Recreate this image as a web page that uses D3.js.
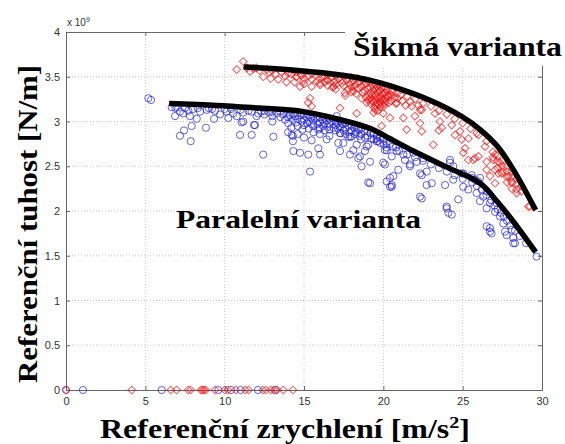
<!DOCTYPE html>
<html>
<head>
<meta charset="utf-8">
<script src="https://cdn.jsdelivr.net/npm/d3@7"></script>
<style>
	body { margin: 0; background: #fff; }
	.tick text { font-family: 'Liberation Sans', Arial, sans-serif; font-size: 11px; fill: #333; }
	.big { font-family: 'Liberation Serif', 'Times New Roman', serif; font-weight: bold; fill: #000; }
</style>
</head>
<body>
<div id="chart"></div>
<script>
'use strict'

var X_TICKS = [0, 5, 10, 15, 20, 25, 30];
var Y_TICKS = [0, 0.5, 1, 1.5, 2, 2.5, 3, 3.5, 4];
var Y_TICK_LABELS = ['0', '0.5', '1', '1.5', '2', '2.5', '3', '3.5', '4'];

// fitted envelopes (x in m/s2, y in 1e9 N/m)
var CURVE_PARALLEL = [[6.5, 3.20], [9.5, 3.18], [12.2, 3.15], [14.6, 3.12], [17.3, 3.02], [19.2, 2.92],
	[20.4, 2.81], [21.9, 2.67], [24.0, 2.49], [26.1, 2.31], [27.2, 2.10], [28.2, 1.88], [29.6, 1.54]];
var CURVE_OBLIQUE = [[11.2, 3.61], [14.6, 3.57], [17.3, 3.52], [19.2, 3.46], [20.4, 3.40], [22.9, 3.24],
	[25.0, 3.05], [26.1, 2.91], [27.2, 2.72], [28.2, 2.46], [29.6, 2.01]];

// blue circles - parallel variant
var PARALLEL_POINTS = [
	[0, 0], [1.07, 0], [6.03, 0], [9.6, 0], [10.4, 0], [11.0, 0], [12.1, 0], [13.2, 0],
	[5.19, 3.26], [5.36, 3.24], [6.66, 3.16], [6.87, 3.06], [7.39, 3.09], [7.81, 3.06], [8.24, 3.03],
	[7.92, 2.95], [7.44, 2.90], [7.18, 2.84], [7.86, 2.78], [8.82, 2.93], [9.33, 3.03], [9.71, 3.08],
	[10.23, 3.04], [10.76, 3.06], [11.07, 2.99], [10.97, 2.85], [11.70, 2.85], [11.85, 2.96], [12.02, 3.06],
	[7.18, 3.11], [7.71, 3.12], [8.45, 3.11], [8.87, 3.13], [9.39, 3.12], [10.12, 3.11], [10.54, 3.09],
	[11.17, 3.10], [11.70, 3.11], [12.12, 3.09], [6.9, 3.15], [8.0, 3.14], [9.0, 3.15], [10.4, 3.14],
	[12.43, 2.63], [13.07, 2.83], [11.91, 2.96], [11.17, 3.00], [14.22, 2.85], [14.33, 2.67], [14.75, 2.65],
	[15.27, 2.63], [15.38, 2.44], [15.48, 2.79], [15.90, 2.70], [16.01, 2.63], [16.43, 2.80], [17.16, 2.76],
	[17.27, 2.67], [17.79, 2.83], [17.90, 2.63], [18.32, 2.74], [18.42, 2.59], [18.63, 2.50], [18.84, 2.67],
	[19.05, 2.74], [19.16, 2.55], [19.58, 2.81], [20.10, 2.68], [19.99, 2.54], [19.05, 2.32], [20.21, 2.33],
	[20.42, 2.27], [20.10, 2.52], [20.42, 2.37], [20.53, 2.27], [20.94, 2.46], [21.26, 2.63], [21.68, 2.52],
	[22.10, 2.55], [22.42, 2.40], [22.73, 2.44], [22.42, 2.14], [23.05, 2.31], [23.89, 2.29], [24.20, 2.54],
	[24.41, 2.35], [24.72, 2.13], [23.99, 2.03], [24.31, 1.96], [25.04, 2.42], [25.35, 2.24], [25.57, 2.37],
	[25.88, 2.20], [25.98, 2.33], [26.09, 2.11], [26.30, 2.16], [26.51, 2.22], [26.51, 2.03], [26.72, 2.09],
	[27.04, 1.99], [27.14, 2.09], [26.51, 1.83], [26.72, 1.77], [27.35, 1.94], [27.56, 1.86], [27.67, 1.77],
	[27.77, 1.73], [28.09, 1.79], [28.19, 1.70], [28.30, 1.64], [29.66, 1.49], [26.72, 1.81], [26.82, 1.75],
	[28.19, 1.64], [20.21, 2.68], [20.53, 2.61], [20.84, 2.67], [20.63, 2.39], [21.36, 2.57], [21.68, 2.50],
	[21.89, 2.65], [22.31, 2.42], [22.52, 2.59], [24.20, 2.57], [24.41, 2.50], [24.94, 2.42], [25.57, 2.40],
	[25.78, 2.35], [26.09, 2.37], [17.06, 3.06], [17.27, 2.87], [17.90, 2.83], [17.48, 2.76], [18.11, 2.68],
	[18.53, 2.61], [18.95, 2.72], [19.16, 2.31], [19.58, 2.78], [20.53, 2.29], [22.31, 2.16], [22.73, 2.29],
	[23.99, 2.05], [24.10, 1.98], [25.04, 2.27],
	[12.5, 3.12], [12.5, 3.08], [13.0, 3.11], [13.0, 3.06], [13.0, 3.00], [13.5, 3.11], [13.5, 3.05],
	[14.0, 3.10], [14.0, 3.05], [14.0, 2.98], [14.0, 2.88], [14.3, 3.08], [14.3, 3.02], [14.3, 2.84],
	[14.3, 2.78], [14.6, 3.09], [14.6, 3.03], [14.6, 2.95], [14.6, 2.86], [15.0, 3.08], [15.0, 3.02],
	[15.0, 2.96], [15.0, 2.82], [15.3, 3.07], [15.3, 3.00], [15.3, 2.92], [15.6, 3.06], [15.6, 3.01],
	[15.6, 2.95], [15.6, 2.88], [16.0, 3.05], [16.0, 2.99], [16.0, 2.93], [16.0, 2.86], [16.3, 3.04],
	[16.3, 2.98], [16.3, 2.90], [16.6, 3.03], [16.6, 2.97], [16.6, 2.91], [16.6, 2.84], [17.0, 3.01],
	[17.0, 2.96], [17.0, 2.90], [17.3, 3.00], [17.3, 2.94], [17.3, 2.87], [17.6, 2.98], [17.6, 2.92],
	[17.6, 2.86], [18.0, 2.96], [18.0, 2.90], [18.0, 2.83], [18.3, 2.94], [18.3, 2.88], [18.6, 2.92],
	[18.6, 2.86], [18.6, 2.80], [19.0, 2.89], [19.0, 2.84], [19.4, 2.86], [19.4, 2.80], [19.8, 2.82],
	[19.8, 2.76], [20.2, 2.76], [20.2, 2.71], [20.6, 2.72],
	[13.3, 3.09], [13.7, 3.08], [13.8, 3.02], [14.1, 3.07], [14.2, 2.93], [14.45, 3.06], [14.5, 2.99],
	[14.8, 3.07], [14.85, 3.00], [14.9, 2.91], [15.15, 3.05], [15.2, 2.98], [15.45, 3.04], [15.5, 2.97],
	[15.8, 3.04], [15.85, 2.97], [15.9, 2.91], [16.15, 3.02], [16.2, 2.95], [16.45, 3.01], [16.5, 2.94],
	[16.8, 3.00], [16.85, 2.93], [17.1, 2.98], [17.15, 2.92], [17.45, 2.97], [17.5, 2.90], [17.8, 2.95],
	[17.85, 2.88], [18.15, 2.93], [18.2, 2.86], [18.45, 2.91], [18.5, 2.84], [18.8, 2.89], [18.85, 2.82],
	[19.2, 2.87], [19.25, 2.81], [19.6, 2.84], [19.65, 2.78], [20.0, 2.80], [20.05, 2.74], [20.4, 2.75],
	[20.8, 2.71], [12.8, 3.10], [12.3, 3.11], [11.5, 3.12], [11.0, 3.13], [10.0, 3.14], [9.2, 3.14],
	[8.3, 3.15], [7.5, 3.15], [7.0, 3.16],
	[21.0, 2.67], [21.5, 2.63], [22.0, 2.60], [22.5, 2.56], [23.0, 2.52], [23.5, 2.48], [24.0, 2.44],
	[24.5, 2.40], [25.0, 2.36], [25.6, 2.32], [25.9, 2.28], [26.2, 2.24], [26.5, 2.18], [26.8, 2.12],
	[27.0, 2.06], [27.2, 2.02], [27.4, 1.98], [27.6, 1.94], [27.8, 1.89], [28.0, 1.84], [28.3, 1.78],
	[28.6, 1.72], [29.0, 1.64]
];

// red diamonds - oblique variant
var OBLIQUE_POINTS = [
	[0, 0], [4.14, 0], [6.6, 0], [6.97, 0], [7.7, 0], [7.85, 0], [8.5, 0], [8.6, 0], [8.7, 0], [8.8, 0],
	[9.4, 0], [10.0, 0], [10.2, 0], [10.7, 0], [11.3, 0], [11.5, 0], [12.4, 0], [12.6, 0], [12.9, 0],
	[13.1, 0], [13.3, 0], [13.7, 0], [14.3, 0],
	[11.17, 3.67], [10.76, 3.58], [11.60, 3.56], [12.43, 3.50], [13.38, 3.47], [12.65, 3.58], [14.01, 3.54],
	[14.54, 3.50], [14.96, 3.45], [14.75, 3.39], [15.48, 3.39], [16.01, 3.41], [16.43, 3.47], [16.85, 3.39],
	[15.38, 3.26], [15.27, 3.21], [15.48, 3.17], [17.27, 3.15], [17.58, 3.32], [18.11, 3.34], [18.32, 3.09],
	[18.63, 3.26], [18.95, 3.21], [19.89, 2.95], [20.0, 3.09], [20.42, 3.04], [21.26, 3.04], [21.47, 2.91],
	[20.84, 3.21], [21.78, 3.17], [21.99, 3.06], [22.42, 3.13], [22.31, 2.98], [22.42, 2.89], [23.15, 2.74],
	[23.26, 3.09], [23.57, 3.00], [23.68, 2.93], [24.31, 2.96], [24.52, 2.85], [24.83, 2.89], [24.94, 2.80],
	[25.15, 2.70], [25.36, 2.81], [25.88, 2.87], [25.67, 2.57], [25.99, 2.61], [26.41, 2.72], [26.51, 2.46],
	[26.72, 2.39], [26.93, 2.57], [27.04, 2.63], [27.35, 2.54], [27.46, 2.42], [27.88, 2.39], [28.09, 2.33],
	[25.04, 2.65], [25.36, 2.57], [25.78, 2.59], [26.51, 2.55], [27.04, 2.46], [27.04, 2.31], [27.25, 2.42],
	[28.40, 2.20], [29.14, 2.05], [29.24, 2.05], [22.31, 3.13], [23.5, 2.90],
	[12.0, 3.60], [13.0, 3.57], [13.6, 3.55],
	[14.5, 3.55], [14.5, 3.50], [15.0, 3.54], [15.0, 3.48], [15.0, 3.42], [15.5, 3.53], [15.5, 3.47],
	[16.0, 3.53], [16.0, 3.48], [16.0, 3.43], [16.5, 3.52], [16.5, 3.46], [16.5, 3.40], [17.0, 3.51],
	[17.0, 3.46], [17.0, 3.41], [17.0, 3.36], [17.5, 3.50], [17.5, 3.45], [17.5, 3.40], [18.0, 3.49],
	[18.0, 3.44], [18.0, 3.38], [18.0, 3.33], [18.4, 3.48], [18.4, 3.43], [18.4, 3.37], [18.8, 3.46],
	[18.8, 3.41], [18.8, 3.35], [19.2, 3.44], [19.2, 3.38], [19.2, 3.32], [19.2, 3.26], [19.2, 3.20],
	[19.5, 3.42], [19.5, 3.36], [19.5, 3.30], [19.5, 3.24], [19.5, 3.18], [19.5, 3.13], [19.8, 3.40],
	[19.8, 3.34], [19.8, 3.28], [19.8, 3.22], [19.8, 3.16], [20.1, 3.38], [20.1, 3.32], [20.1, 3.26],
	[20.1, 3.20], [20.5, 3.35], [20.5, 3.29], [20.5, 3.23], [20.9, 3.32], [20.9, 3.26],
	[16.2, 3.50], [16.7, 3.49], [16.9, 3.44], [17.2, 3.48], [17.4, 3.43], [17.7, 3.47], [17.9, 3.41],
	[18.1, 3.46], [18.2, 3.40], [18.5, 3.45], [18.6, 3.39], [18.7, 3.32], [18.9, 3.43], [19.0, 3.37],
	[19.1, 3.29], [19.3, 3.41], [19.35, 3.35], [19.4, 3.22], [19.45, 3.15], [19.6, 3.39], [19.65, 3.33],
	[19.7, 3.26], [19.75, 3.19], [19.9, 3.37], [19.95, 3.31], [20.0, 3.24], [20.05, 3.17], [20.2, 3.35],
	[20.3, 3.28], [20.35, 3.21], [20.6, 3.33], [20.7, 3.26], [20.8, 3.20], [21.1, 3.30], [21.2, 3.23],
	[21.4, 3.18], [21.7, 3.22], [22.2, 3.18], [17.8, 3.36], [18.3, 3.31], [16.8, 3.38], [17.6, 3.29],
	[16.3, 3.44], [15.8, 3.45], [15.3, 3.51], [14.8, 3.52], [14.2, 3.53], [13.8, 3.51], [13.2, 3.53],
	[12.8, 3.55], [12.2, 3.57], [11.8, 3.59], [11.4, 3.60], [13.9, 3.44], [12.9, 3.48], [14.4, 3.44],
	[19.25, 3.23], [19.55, 3.27], [19.6, 3.20], [19.85, 3.25], [19.9, 3.19], [20.15, 3.23], [20.2, 3.29],
	[19.3, 3.30], [19.7, 3.36], [20.4, 3.31], [18.9, 3.27], [19.05, 3.24], [19.4, 3.10], [19.65, 3.12],
	[21.5, 3.28], [22.0, 3.25], [22.5, 3.20], [23.0, 3.17], [23.5, 3.12], [24.0, 3.08], [24.5, 3.03],
	[25.0, 2.98], [25.5, 2.92], [26.0, 2.85], [26.5, 2.78],
	[26.9, 2.66], [26.9, 2.60], [27.2, 2.62], [27.2, 2.55], [27.2, 2.48], [27.5, 2.56], [27.5, 2.50],
	[27.5, 2.44], [27.8, 2.50], [27.8, 2.44], [27.8, 2.38], [27.8, 2.32], [28.1, 2.44], [28.1, 2.38],
	[28.1, 2.31], [28.1, 2.25], [28.4, 2.36], [28.4, 2.30], [28.4, 2.24], [28.7, 2.28], [28.7, 2.22]
];

(function() {
	var width = 565, height = 444;
	var padding = { top: 32, right: 23, bottom: 54, left: 66 };

	var svg = d3.select('#chart').append('svg')
		.attr('width', width)
		.attr('height', height);

	var x = d3.scaleLinear().domain([0, 30]).range([padding.left, width - padding.right]);
	var y = d3.scaleLinear().domain([0, 4]).range([height - padding.bottom, padding.top]);

	// grid
	var grid = svg.append('g').attr('stroke', '#c8c8c8').attr('stroke-dasharray', '1,2');
	grid.selectAll('.gx').data(X_TICKS.slice(1, -1)).enter().append('line')
		.attr('x1', function(d) { return x(d); }).attr('x2', function(d) { return x(d); })
		.attr('y1', y(0)).attr('y2', y(4));
	grid.selectAll('.gy').data(Y_TICKS.slice(1, -1)).enter().append('line')
		.attr('x1', x(0)).attr('x2', x(30))
		.attr('y1', function(d) { return y(d); }).attr('y2', function(d) { return y(d); });

	// axes
	var xAxis = d3.axisBottom(x).tickValues(X_TICKS).tickSize(-4).tickPadding(7);
	var yAxis = d3.axisLeft(y).tickValues(Y_TICKS).tickSize(-4).tickPadding(6)
		.tickFormat(function(d, i) { return Y_TICK_LABELS[i]; });

	svg.append('g').attr('transform', 'translate(0,' + y(0) + ')').call(xAxis);
	svg.append('g').attr('transform', 'translate(' + x(0) + ',0)').call(yAxis);
	svg.append('g').attr('transform', 'translate(0,' + y(4) + ')')
		.call(d3.axisTop(x).tickValues(X_TICKS).tickSize(-4).tickFormat(''));
	svg.append('g').attr('transform', 'translate(' + x(30) + ',0)')
		.call(d3.axisRight(y).tickValues(Y_TICKS).tickSize(-4).tickFormat(''));
	svg.selectAll('.domain, .tick line').attr('stroke', '#666');

	var exp = svg.append('text')
		.attr('x', x(0) + 1).attr('y', y(4) - 6)
		.style('font-family', 'Liberation Sans, Arial, sans-serif')
		.style('font-size', '10px').attr('fill', '#333');
	exp.append('tspan').text('x 10');
	exp.append('tspan').attr('dy', -4).style('font-size', '7px').text('9');

	// scatter
	svg.append('g').selectAll('circle').data(PARALLEL_POINTS).enter().append('circle')
		.attr('cx', function(d) { return x(d[0]); })
		.attr('cy', function(d) { return y(d[1]); })
		.attr('r', 3.6)
		.attr('fill', 'none')
		.attr('stroke', '#1a1ad0')
		.attr('stroke-opacity', 0.68);

	var diamond = d3.symbol().type(d3.symbolSquare).size(30);
	svg.append('g').selectAll('path').data(OBLIQUE_POINTS).enter().append('path')
		.attr('d', diamond)
		.attr('transform', function(d) { return 'translate(' + x(d[0]) + ',' + y(d[1]) + ') rotate(45)'; })
		.attr('fill', 'none')
		.attr('stroke', '#ee1010')
		.attr('stroke-opacity', 0.68);

	// envelopes
	var line = d3.line()
		.x(function(d) { return x(d[0]); })
		.y(function(d) { return y(d[1]); })
		.curve(d3.curveCatmullRom.alpha(0.5));
	[CURVE_PARALLEL, CURVE_OBLIQUE].forEach(function(c) {
		svg.append('path').datum(c)
			.attr('d', line)
			.attr('fill', 'none')
			.attr('stroke', '#000')
			.attr('stroke-width', 5.5)
			.attr('stroke-linejoin', 'round');
	});

	// labels
	svg.append('rect').attr('x', 345).attr('y', 22).attr('width', 220).attr('height', 44).attr('fill', '#fff');
	svg.append('text').attr('class', 'big')
		.attr('x', 353).attr('y', 56)
		.attr('textLength', 209).attr('lengthAdjust', 'spacingAndGlyphs')
		.style('font-size', '27px')
		.text('Šikmá varianta');

	svg.append('text').attr('class', 'big')
		.attr('x', 176).attr('y', 228)
		.attr('textLength', 245).attr('lengthAdjust', 'spacingAndGlyphs')
		.style('font-size', '26px')
		.text('Paralelní varianta');

	svg.append('text').attr('class', 'big')
		.attr('transform', 'translate(37,' + 383 + ') rotate(-90)')
		.attr('textLength', 318).attr('lengthAdjust', 'spacingAndGlyphs')
		.style('font-size', '27px')
		.text('Referenční tuhost [N/m]');

	var xl = svg.append('text').attr('class', 'big')
		.attr('x', 100).attr('y', 438)
		.attr('textLength', 370).attr('lengthAdjust', 'spacingAndGlyphs')
		.style('font-size', '27px');
	xl.append('tspan').text('Referenční zrychlení [m/s');
	xl.append('tspan').attr('dy', -10).style('font-size', '17px').text('2');
	xl.append('tspan').attr('dy', 10).text(']');
})();
</script>
</body>
</html>
